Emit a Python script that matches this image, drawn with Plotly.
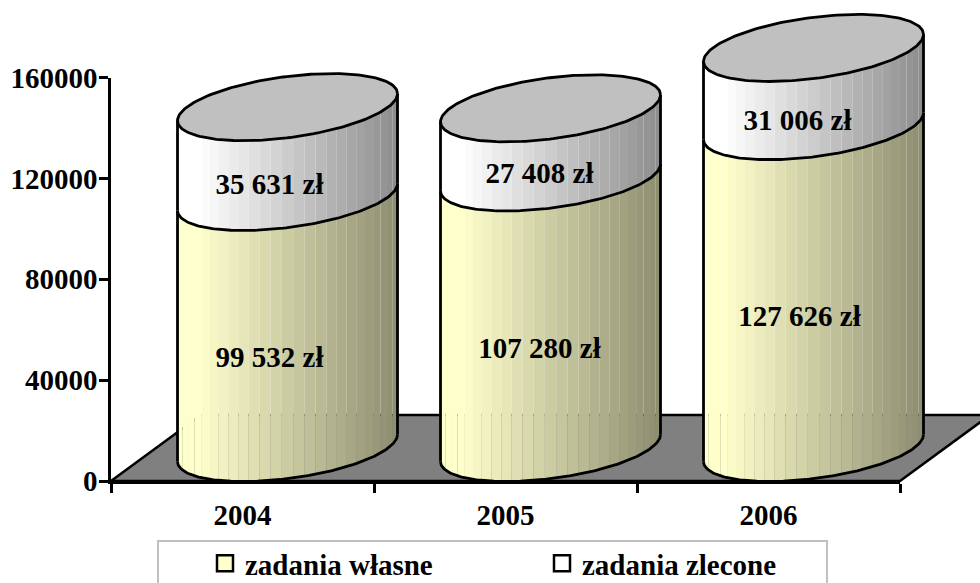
import numpy as np
import plotly.graph_objects as go

# ---- data ----
years = ["2004", "2005", "2006"]
own_tasks = [99532, 107280, 127626]
commissioned = [35631, 27408, 31006]
own_labels = ["99 532 zł", "107 280 zł", "127 626 zł"]
comm_labels = ["35 631 zł", "27 408 zł", "31 006 zł"]
series_names = ["zadania własne", "zadania zlecone"]
y_ticks = [0, 40000, 80000, 120000, 160000]

# ---- layout geometry (figure pixels) ----
W, H = 980, 583
X0_PX, X1_PX = 111, 900
Y0_PX, Y1_PX = 481, 77.5
FONT = "Liberation Serif"
FS = 29
CAT_PX = (X1_PX - X0_PX) / 3
VAL_PX = 160000 / (Y0_PX - Y1_PX)      # value units per pixel

RADIUS_X = 110 / CAT_PX                 # category units
RADIUS_Y = 30.7 * VAL_PX                # value units
SHEAR = 13.5 * VAL_PX                   # value units, rise at the right edge
DEPTH_X = 45 / CAT_PX
DEPTH_Y = 33 * VAL_PX
N_STRIPS = 25

OWN_RGB = (255, 255, 204)
COMM_RGB = (255, 255, 255)
TOP_COLOR = "#C0C0C0"
FLOOR_COLOR = "#808080"
LW = 2.8

# label nudges in pixels (right, down)
OWN_NUDGE = [(27, 4), (34, 5), (31, -1)]
COMM_NUDGE = [(27, 2), (34, 0), (29, 3)]

MARKS = dict(xaxis="x2", yaxis="y2", hoverinfo="skip", showlegend=False)


def shade(rgb, u):
    f = 1.0 if u < 0.1 else 1.0 - (u - 0.1) / 0.9 * 0.45
    return "rgb(%d,%d,%d)" % tuple(round(c * f) for c in rgb)


def front_arc(cx, cy, t):
    """Front edge of the cylinder ellipse, t runs pi (left) to 0 (right)."""
    c = np.cos(t)
    return cx + RADIUS_X * c, cy + SHEAR * c - RADIUS_Y * np.sin(t)


def facet_x(t):
    return 0.5 * np.cos(t) + 0.5 * (1 - 2 * t / np.pi)


fig = go.Figure()

# floor
fx = [0, 3, 3 + 2 * DEPTH_X, 2 * DEPTH_X, 0]
fy = [0, 0, 2 * DEPTH_Y, 2 * DEPTH_Y, 0]
fig.add_trace(go.Scatter(x=fx, y=fy, mode="lines", fill="toself", fillcolor=FLOOR_COLOR,
                         line=dict(color="black", width=2.5), **MARKS))


def add_segment(cx, low, high, rgb):
    c_low, c_high = low + DEPTH_Y, high + DEPTH_Y
    edges = np.linspace(np.pi, 0, N_STRIPS + 1)
    xs = facet_x(edges)                # -1 .. 1 across the width
    for i in range(N_STRIPS):
        u1, u2 = xs[i], xs[i + 1]
        tt = np.arccos(np.clip(np.linspace(u1, u2, 5), -1, 1))
        x_top, y_top = front_arc(cx, c_high, tt)
        x_bot, y_bot = front_arc(cx, c_low, tt)
        fig.add_trace(go.Scatter(
            x=np.r_[x_top, x_bot[::-1], x_top[0]],
            y=np.r_[y_top, y_bot[::-1], y_top[0]],
            mode="lines", fill="toself", fillcolor=shade(rgb, (0.5 * (u1 + u2) + 1) / 2),
            line=dict(width=0), **MARKS))
    tf = np.linspace(np.pi, 0, 120)
    x_b, y_b = front_arc(cx, c_low, tf)
    fig.add_trace(go.Scatter(x=x_b, y=y_b, mode="lines",
                             line=dict(color="black", width=LW), **MARKS))
    for side in (-1, 1):
        fig.add_trace(go.Scatter(
            x=[cx + side * RADIUS_X] * 2,
            y=[c_low + side * SHEAR, c_high + side * SHEAR],
            mode="lines", line=dict(color="black", width=LW), **MARKS))


for i in range(len(years)):
    cx = i + 0.5 + DEPTH_X
    total = own_tasks[i] + commissioned[i]
    add_segment(cx, 0, own_tasks[i], OWN_RGB)
    add_segment(cx, own_tasks[i], total, COMM_RGB)
    t = np.linspace(0, 2 * np.pi, 200)
    fig.add_trace(go.Scatter(
        x=cx + RADIUS_X * np.cos(t),
        y=total + DEPTH_Y + SHEAR * np.cos(t) + RADIUS_Y * np.sin(t),
        mode="lines", fill="toself", fillcolor=TOP_COLOR,
        line=dict(color="black", width=LW), **MARKS))

# data labels
lx = [i + 0.5 + OWN_NUDGE[i][0] / CAT_PX for i in range(3)] + \
     [i + 0.5 + COMM_NUDGE[i][0] / CAT_PX for i in range(3)]
ly = [own_tasks[i] / 2 - OWN_NUDGE[i][1] * VAL_PX for i in range(3)] + \
     [own_tasks[i] + commissioned[i] / 2 - COMM_NUDGE[i][1] * VAL_PX for i in range(3)]
fig.add_trace(go.Scatter(
    x=lx, y=ly, text=own_labels + comm_labels, mode="text", textposition="middle center",
    textfont=dict(family=FONT, size=FS, color="black", weight="bold"), **MARKS))

# legend entries (these also keep the visible axes alive)
for name, col in zip(series_names, ["#FFFFCC", "#FFFFFF"]):
    fig.add_trace(go.Scatter(
        x=[None], y=[None], mode="markers", name=name, hoverinfo="skip",
        marker=dict(symbol="square", size=16, color=col, line=dict(color="black", width=2.5))))

fig.update_layout(
    width=W, height=H, margin=dict(l=0, r=0, t=0, b=0, autoexpand=False),
    paper_bgcolor="white", plot_bgcolor="rgba(0,0,0,0)",
    font=dict(family=FONT, size=FS, color="black", weight="bold"),
    xaxis=dict(domain=[X0_PX / W, X1_PX / W], range=[0, 3], tickmode="array",
               tickvals=[0.5, 1.5, 2.5], ticktext=years, ticks="", ticklabelstandoff=6,
               showline=True, linecolor="black", linewidth=2.5, showgrid=False, zeroline=False,
               minor=dict(tickmode="array", tickvals=[0, 1, 2, 3], ticks="outside",
                          ticklen=9, tickwidth=2.5, tickcolor="black", showgrid=False),
               tickfont=dict(family=FONT, size=FS, weight="bold")),
    yaxis=dict(domain=[(H - Y0_PX) / H, (H - Y1_PX) / H], range=[0, 160000], tickmode="array",
               tickvals=y_ticks, ticktext=[str(v) for v in y_ticks], ticks="outside",
               ticklen=9, tickwidth=2.5, tickcolor="black", ticklabelstandoff=-4,
               showline=True, linecolor="black", linewidth=2.5, showgrid=False, zeroline=False,
               tickfont=dict(family=FONT, size=FS, weight="bold")),
    # full-page hidden axes on the same scale, so marks are not clipped at the plot area
    xaxis2=dict(domain=[0, 1], range=[-X0_PX / CAT_PX, (W - X0_PX) / CAT_PX], visible=False,
                anchor="y2", fixedrange=True),
    yaxis2=dict(domain=[0, 1], range=[(Y0_PX - H) * VAL_PX, Y0_PX * VAL_PX], visible=False,
                anchor="x2", fixedrange=True),
    showlegend=True,
    legend=dict(orientation="h", x=205 / W, y=1 - 538 / H, xanchor="left", yanchor="top",
                entrywidth=292, entrywidthmode="pixels", bgcolor="rgba(0,0,0,0)",
                borderwidth=0, font=dict(family=FONT, size=FS, weight="bold")),
    shapes=[dict(type="rect", xref="paper", yref="paper",
                 x0=158 / W, x1=827 / W, y0=1 - 541 / H, y1=1 - 600 / H,
                 line=dict(color="#C0C0C0", width=2), fillcolor="rgba(0,0,0,0)")],
)

fig.write_html("out.html", config=dict(displayModeBar=False),
               post_script="document.body.style.margin='0';document.documentElement.style.overflow='hidden';window.dispatchEvent(new Event('resize'));")
